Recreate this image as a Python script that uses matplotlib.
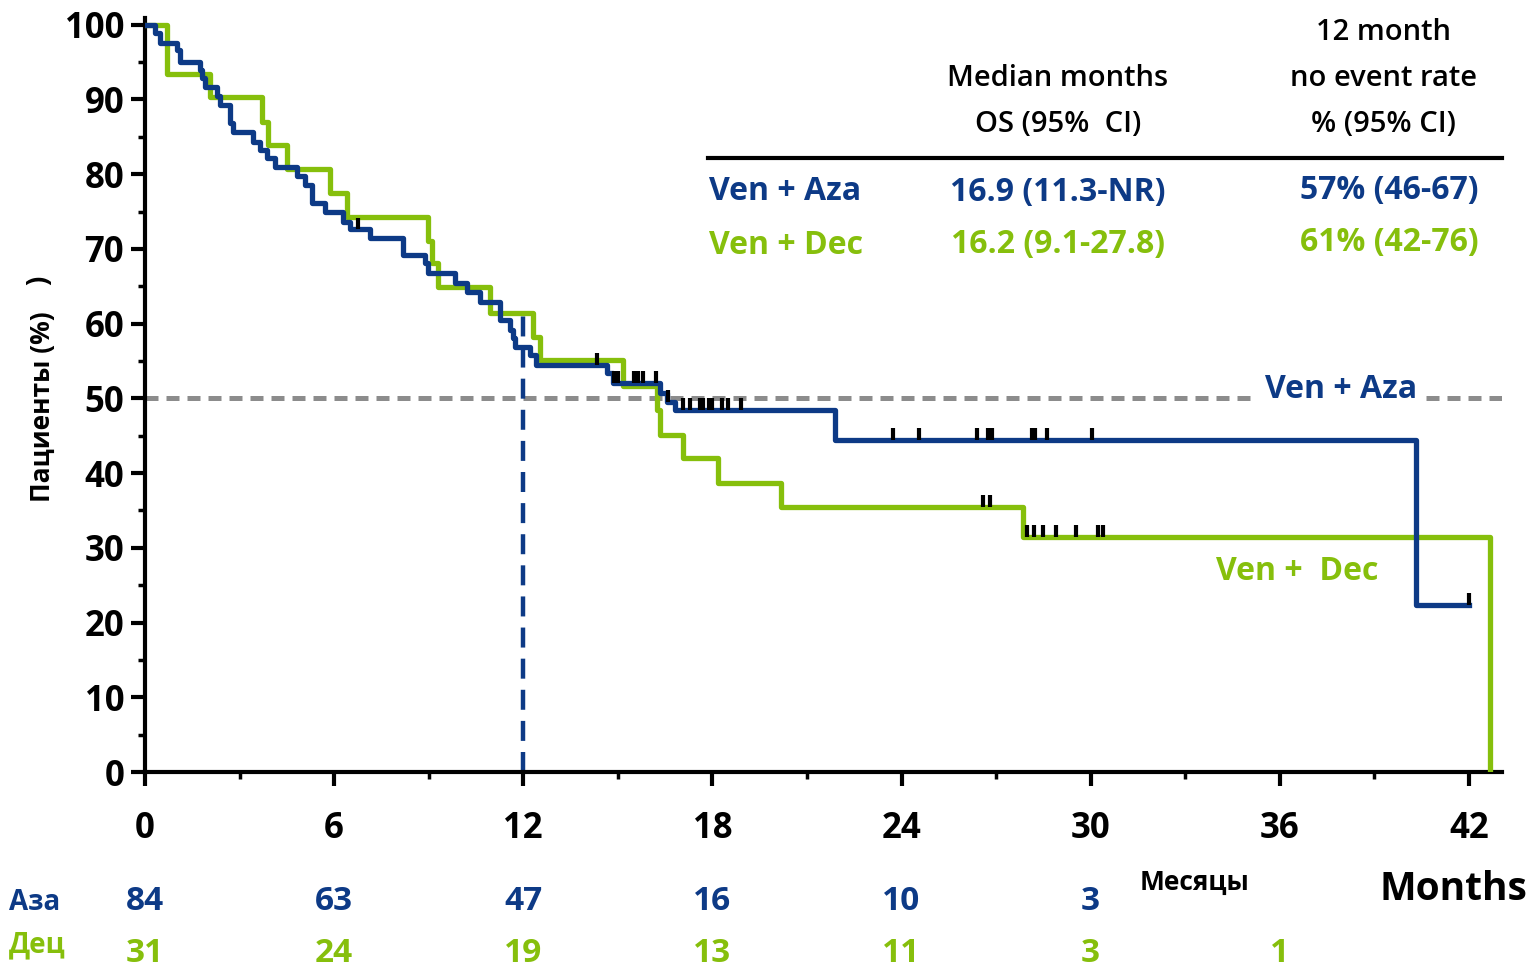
import numpy as np
import matplotlib
matplotlib.use("Agg")
import matplotlib.pyplot as plt
from matplotlib.lines import Line2D

plt.rcParams['font.family'] = ['Open Sans', 'DejaVu Sans']

BLUE = '#0d3a86'
GREEN = '#86bf0c'

# Ven + Aza (KM step curve, months / % surviving)
aza_t = [0, 0.32, 0.48, 1.02, 1.11, 1.74, 1.81, 1.90, 2.28, 2.38, 2.70, 2.79,
         3.43, 3.65, 3.87, 4.12, 4.82, 5.08, 5.30, 5.71, 6.28, 6.50, 7.14, 8.19,
         8.88, 8.98, 9.84, 10.22, 10.63, 11.26, 11.58, 11.68, 11.74, 12.21, 12.41,
         14.66, 14.85, 16.34, 16.56, 16.81, 21.89, 40.32, 42.0]
aza_s = [100, 98.9, 97.6, 96.6, 95.0, 94.0, 92.9, 91.7, 90.4, 89.3, 86.9, 85.7,
         84.3, 83.3, 82.2, 80.9, 79.7, 78.6, 76.2, 75.0, 73.6, 72.6, 71.5, 69.2,
         68.1, 66.8, 65.5, 64.3, 62.9, 60.5, 59.2, 58.1, 56.9, 55.8, 54.5,
         53.4, 52.1, 50.7, 49.5, 48.5, 44.4, 22.3, 22.3]
aza_cens = [6.76, 14.34, 14.88, 15.02, 15.5, 15.65, 15.8, 16.2, 16.6, 17.07, 17.3,
            17.6, 17.7, 17.9, 18.0, 18.3, 18.5, 18.9, 23.73, 24.56, 26.4, 26.74,
            26.87, 28.14, 28.24, 28.62, 30.04, 42.0]

# Ven + Dec
dec_t = [0, 0.70, 2.06, 3.71, 3.90, 4.51, 5.87, 6.41, 8.98, 9.10, 9.30, 10.95,
         12.31, 12.53, 15.17, 16.24, 16.34, 17.07, 18.18, 20.18, 27.86, 42.67]
dec_s = [100, 93.4, 90.3, 87.0, 83.9, 80.7, 77.5, 74.3, 71.0, 68.1, 64.9, 61.4,
         58.2, 55.1, 51.6, 48.4, 45.1, 42.0, 38.7, 35.5, 31.5, 0]
dec_cens = [26.6, 26.8, 27.98, 28.2, 28.49, 28.9, 29.54, 30.23, 30.39]

median_level = 50
landmark_month = 12
landmark_top = 61.2

risk_months = [0, 6, 12, 18, 24, 30, 36]
aza_risk = [84, 63, 47, 16, 10, 3]
dec_risk = [31, 24, 19, 13, 11, 3, 1]

W, H = 1529, 968
fig = plt.figure(figsize=(W / 100, H / 100), dpi=100)
ax = fig.add_axes([145 / W, 1 - 772 / H, (1502 - 145) / W, (772 - 18) / H])
ax.set_xlim(0, 43.05)
ax.set_ylim(0, 100.9)


def px(x, y):
    return x / W, 1 - y / H


def level_at(t, s, x):
    i = np.searchsorted(t, x, side='right') - 1
    return np.array(s)[i]


ax.axhline(median_level, xmin=0, xmax=1, color='#8c8c8c', lw=3.6,
           dashes=(2.6, 1.6), zorder=1)
ax.plot([landmark_month, landmark_month], [0, landmark_top], color=BLUE, lw=3.2,
        dashes=(4.5, 2.5), zorder=2)

ax.step(dec_t, dec_s, where='post', color=GREEN, lw=3.8, zorder=3)
ax.step(aza_t, aza_s, where='post', color=BLUE, lw=3.8, zorder=4)

for cens, t, s in [(aza_cens, aza_t, aza_s), (dec_cens, dec_t, dec_s)]:
    lv = level_at(t, s, np.array(cens))
    ax.vlines(cens, lv, lv + 1.6, color='black', lw=3.0, zorder=5)

for sp in ['top', 'right']:
    ax.spines[sp].set_visible(False)
for sp in ['left', 'bottom']:
    ax.spines[sp].set_linewidth(3.0)

ax.set_xticks(np.arange(0, 43, 6))
ax.set_xticks(np.arange(3, 43, 6), minor=True)
ax.set_yticks(np.arange(0, 101, 10))
ax.set_yticks(np.arange(5, 100, 10), minor=True)
ax.tick_params(axis='both', which='major', width=3.0, labelsize=25)
ax.tick_params(axis='x', which='major', length=10, pad=18)
ax.tick_params(axis='y', which='major', length=10, pad=5)
ax.tick_params(axis='both', which='minor', width=2.5, length=5)
for lab in ax.get_xticklabels() + ax.get_yticklabels():
    lab.set_fontweight('bold')

# y label
fig.text(*px(42, 407), 'Пациенты (%)', rotation=90, ha='center', va='center',
         fontsize=19, fontweight='bold')
fig.text(*px(40, 280), ')', rotation=90, ha='center', va='center',
         fontsize=20, fontweight='bold')

# table header
hdr = dict(ha='center', va='center', fontsize=21, fontweight='semibold')
fig.text(*px(1058, 78), 'Median months', **hdr)
fig.text(*px(1058, 124), 'OS (95%  CI)', **hdr)
fig.text(*px(1383, 33), '12 month', **hdr)
fig.text(*px(1383, 79), 'no event rate', **hdr)
fig.text(*px(1383, 124), '% (95% CI)', **hdr)
fig.add_artist(Line2D([708 / W, 1502 / W], [1 - 158 / H, 1 - 158 / H],
                      color='black', lw=3.0))

rows = [('Ven + Aza', '16.9 (11.3-NR)', '57% (46-67)', BLUE, 192),
        ('Ven + Dec', '16.2 (9.1-27.8)', '61% (42-76)', GREEN, 245)]
for name, med, rate, c, yy in rows:
    fig.text(*px(709, yy), name, ha='left', va='center', fontsize=23,
             fontweight='bold', color=c)
    fig.text(*px(1058, yy), med, ha='center', va='center', fontsize=23,
             fontweight='bold', color=c)
    fig.text(*px(1389, yy - 2), rate, ha='center', va='center', fontsize=23,
             fontweight='bold', color=c)

# curve labels
fig.text(*px(1265, 390), 'Ven + Aza', ha='left', va='center', fontsize=23,
         fontweight='bold', color=BLUE,
         bbox=dict(facecolor='white', edgecolor='none', pad=6))
fig.text(*px(1216, 571), 'Ven +  Dec', ha='left', va='center', fontsize=23,
         fontweight='bold', color=GREEN)

# number at risk
tr = ax.get_xaxis_transform()
for m, n in zip(risk_months, aza_risk):
    ax.text(m, (772 - 901) / 754, str(n), transform=tr, ha='center', va='center',
            fontsize=24, fontweight='bold', color=BLUE, clip_on=False)
for m, n in zip(risk_months, dec_risk):
    ax.text(m, (772 - 953) / 754, str(n), transform=tr, ha='center', va='center',
            fontsize=24, fontweight='bold', color=GREEN, clip_on=False)
fig.text(*px(9, 903), 'Аза', ha='left', va='center', fontsize=20,
         fontweight='bold', color=BLUE)
fig.text(*px(9, 945), 'Дец', ha='left', va='center', fontsize=20,
         fontweight='bold', color=GREEN)

fig.text(*px(1194, 882), 'Месяцы', ha='center', va='center', fontsize=19,
         fontweight='bold')
fig.text(*px(1453, 890), 'Months', ha='center', va='center', fontsize=28,
         fontweight='bold')

fig.savefig('out.png', dpi=100)
